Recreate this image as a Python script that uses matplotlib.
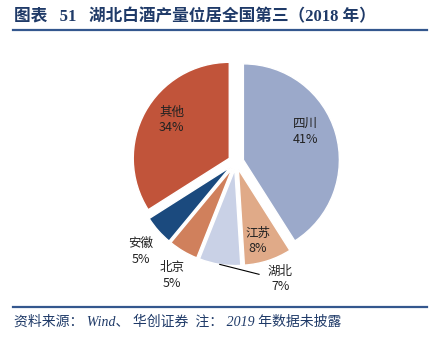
import numpy as np
import matplotlib.pyplot as plt

plt.rcParams['font.family'] = ['Noto Sans CJK SC', 'DejaVu Sans']

# data (2018 output share)
regions = ['四川', '江苏', '湖北', '北京', '安徽', '其他']
shares = [41, 8, 7, 5, 5, 34]
colors = ['#9BA9CA', '#E0AA88', '#C9D1E6', '#D0805C', '#1B4A7E', '#C1543A']

# label placement, in pie radius units
label_pos = [(0.72, 0.32), (0.23, -0.82), (0.46, -1.22),
             (-0.67, -1.18), (-0.99, -0.93), (-0.67, 0.44)]

W, H = 431, 339
cx, cy, R = 236, 162, 96   # pie centre and radius in pixels

fig = plt.figure(figsize=(W / 100, H / 100), dpi=100)
ax = fig.add_axes([0, 0, 1, 1])

wedges, _ = ax.pie(shares, colors=colors, startangle=90, counterclock=False,
                   explode=[0.08] * len(shares),
                   wedgeprops=dict(edgecolor='white', linewidth=1))
ax.set_xlim(-cx / R, (W - cx) / R)
ax.set_ylim(-(H - cy) / R, cy / R)
ax.set_aspect('auto')
ax.axis('off')

for name, val, (x, y) in zip(regions, shares, label_pos):
    ax.text(x, y, f'{name}\n{val}%', ha='center', va='center', fontsize=9,
            color='#222222', linespacing=1.25)

# leader line for 湖北
w = wedges[regions.index('湖北')]
mid = np.deg2rad((w.theta1 + w.theta2) / 2)
ax.plot([1.08 * np.cos(mid), 0.24], [1.08 * np.sin(mid), -1.17],
        color='black', linewidth=0.8)

# title and footer
navy = '#1F3A68'
serif_cjk = ['Liberation Serif', 'Noto Sans CJK SC']
fig.text(14 / W, 1 - 17 / H, '图表   51', fontsize=12, fontweight='bold',
         color=navy, va='center', family=serif_cjk)
fig.text(89 / W, 1 - 17 / H, '湖北白酒产量位居全国第三（2018 年）',
         fontsize=12, fontweight='bold', color=navy, va='center',
         family=serif_cjk)
fig.add_artist(plt.Line2D([13 / W, 427 / W], [1 - 29.5 / H, 1 - 29.5 / H],
                          color='#34578E', linewidth=1.6))
fig.add_artist(plt.Line2D([13 / W, 427 / W], [1 - 307 / H, 1 - 307 / H],
                          color='#34578E', linewidth=1.6))
fig.text(14 / W, 1 - 322 / H, '资料来源： Wind、 华创证券  注： 2019 年数据未披露',
         fontsize=10, style='italic', color=navy, va='center',
         family=serif_cjk)

fig.savefig('out.png', dpi=100)
